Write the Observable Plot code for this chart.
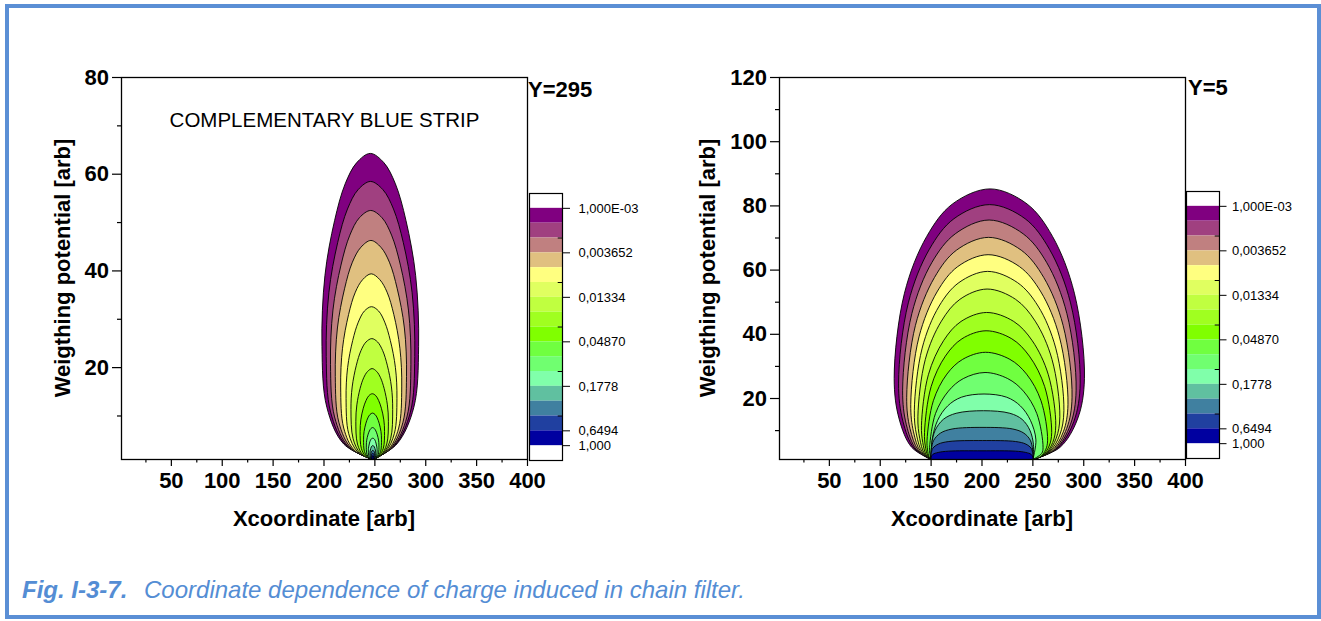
<!DOCTYPE html>
<html>
<head>
<meta charset="utf-8">
<script src="https://cdn.jsdelivr.net/npm/d3@7"></script>
<script src="https://cdn.jsdelivr.net/npm/@observablehq/plot@0.6"></script>
<style>
  html, body { margin: 0; padding: 0; background: #fff; overflow: hidden; }
  #page { position: relative; width: 1321px; height: 621px; font-family: "Liberation Sans", Arial, sans-serif; }
  #border { position: absolute; left: 5px; top: 4px; width: 1316px; height: 615px; box-sizing: border-box; border: 4px solid #5b8fd5; }
  .abs { position: absolute; }
  .slice { font-weight: bold; font-size: 22px; line-height: 22px; color: #000; white-space: nowrap; }
  .title { position: absolute; font-weight: bold; font-size: 22px; line-height: 22px; color: #000; white-space: nowrap; transform: translate(-50%, -50%); }
  .title.vert { transform: translate(-50%, -50%) rotate(-90deg); }
  #caption { left: 22px; top: 578px; font-size: 24px; line-height: 24px; font-style: italic; color: #548dd4; white-space: nowrap; }
  #caption b { margin-right: 10px; }
</style>
</head>
<body>
<div id="page">
  <div id="border"></div>
  <div id="leftPanel" class="abs" style="left:0px;top:0px"></div>
  <div id="leftBar" class="abs" style="left:529px;top:183px"></div>
  <div class="abs slice" style="left:528px;top:79px">Y=295</div>
  <div class="title vert" style="left:63px;top:268px">Weigthing potential [arb]</div>
  <div class="title" style="left:324px;top:519px">Xcoordinate [arb]</div>
  <div id="rightPanel" class="abs" style="left:660px;top:0px"></div>
  <div id="rightBar" class="abs" style="left:1186px;top:181px"></div>
  <div class="abs slice" style="left:1188px;top:77px">Y=5</div>
  <div class="title vert" style="left:708px;top:268px">Weigthing potential [arb]</div>
  <div class="title" style="left:982px;top:519px">Xcoordinate [arb]</div>
  <div id="caption" class="abs"><b>Fig. I-3-7.</b> Coordinate dependence of charge induced in chain filter.</div>
</div>
<script>
// Contour level boundaries (induced charge fraction), lowest first
const levels = [0.001, 0.0015399, 0.0023714, 0.0036517, 0.0056234, 0.0086596, 0.013335, 0.020535,
  0.031623, 0.048697, 0.074989, 0.11548, 0.17783, 0.27384, 0.42170, 0.64938, 1.0];
// Fill colour of the band just above each level
const bandColors = ["#800080", "#a04080", "#c08080", "#e0c080", "#ffff80", "#e0ff60", "#c0ff40", "#a0ff20",
  "#80ff00", "#70ff40", "#70ff70", "#80ffaa", "#60c0a0", "#4080a0", "#2040a0", "#0000a0"];
// Colour bar extent and ticks
const barLow = 0.00064938, barHigh = 1.5399;
const barTickValues = [0.001, 0.0036517, 0.013335, 0.048697, 0.17783, 0.64938, 1.0];
const barTickLabels = ["1,000E-03", "0,003652", "0,01334", "0,04870", "0,1778", "0,6494", "1,000"];
const barMinorTicks = [0.0023714, 0.0086596, 0.031623, 0.11548, 0.42170];

// Axis ticks
const xMajor = [50, 100, 150, 200, 250, 300, 350, 400];
const xMinor = [25, 75, 125, 175, 225, 275, 325, 375];
const leftYMajor = [20, 40, 60, 80];
const leftYMinor = [10, 30, 50, 70];
const rightYMajor = [20, 40, 60, 80, 100, 120];
const rightYMinor = [10, 30, 50, 70, 90, 110];

// Y=295 slice: iso-lines around the narrow strip end at x≈248, one outline per level
const leftContours = [
  [[248,1],[219.4,4.2],[202.8,11.8],[198,24.4],[200.9,39],[210.4,50.4],[220.8,58],[232.2,62.4],[245.5,64.3],[258.8,62.4],[270.2,58],[280.6,50.4],[290.1,39],[293,24.4],[288.3,11.8],[271.6,4.2],[248,1]],
  [[248,1],[221.8,3.9],[206.5,10.8],[202.2,22.3],[204.8,35.5],[213.5,45.9],[223.1,52.8],[233.5,56.8],[245.7,58.5],[257.9,56.8],[268.3,52.8],[277.9,45.9],[286.6,35.5],[289.2,22.3],[284.9,10.8],[269.6,3.9],[248,1]],
  [[248,1],[224.2,3.6],[210.4,9.8],[206.4,20.6],[208.8,31.9],[216.7,41.2],[225.4,47.4],[234.8,51],[245.9,52.5],[257,51],[266.4,47.4],[275.1,41.2],[283,31.9],[285.4,20.6],[281.5,9.8],[267.6,3.6],[248,1]],
  [[248,1],[226.9,3.3],[214.6,8.7],[211.1,18.2],[213.2,28.2],[220.2,36.3],[227.9,41.8],[236.3,44.9],[246.1,46.3],[255.9,44.9],[264.3,41.8],[272,36.3],[279,28.2],[281.1,18.2],[277.6,8.7],[265.4,3.3],[248,1]],
  [[248,1],[229.9,2.9],[219.4,7.5],[216.4,16],[218.2,24],[224.2,31],[230.8,35.6],[238,38.2],[246.4,39.4],[254.8,38.2],[262,35.6],[268.6,31],[274.6,24],[276.4,16],[273.4,7.5],[262.9,2.9],[248,1]],
  [[248,1],[233,2.6],[224.2,6.4],[221.7,13.6],[223.2,20],[228.2,25.6],[233.7,29.4],[239.7,31.7],[246.7,32.6],[253.7,31.7],[259.7,29.4],[265.2,25.6],[270.2,20],[271.7,13.6],[269.2,6.4],[260.5,2.6],[248,1]],
  [[248,1],[235.7,2.3],[228.6,5.3],[226.5,11.3],[227.7,16],[231.8,20.5],[236.3,23.5],[241.3,25.3],[247,26],[252.7,25.3],[257.7,23.5],[262.2,20.5],[266.3,16],[267.5,11.3],[265.5,5.3],[258.3,2.3],[248,1]],
  [[248,1],[238.5,1.9],[232.9,4.2],[231.3,8.9],[232.3,12.3],[235.5,15.7],[239,17.9],[242.8,19.2],[247.3,19.8],[251.8,19.2],[255.6,17.9],[259.1,15.7],[262.3,12.3],[263.3,8.9],[261.7,4.2],[256.1,1.9],[248,1]],
  [[248,1],[240.9,1.7],[236.7,3.3],[235.5,6.8],[236.2,9.2],[238.6,11.6],[241.3,13.2],[244.1,14.2],[247.5,14.6],[250.9,14.2],[253.7,13.2],[256.4,11.6],[258.8,9.2],[259.5,6.8],[258.3,3.3],[254.1,1.7],[248,1]],
  [[248,1],[242.9,1.5],[239.8,2.6],[238.9,5.2],[239.4,6.8],[241.2,8.5],[243.1,9.6],[245.2,10.3],[247.7,10.6],[250.2,10.3],[252.3,9.6],[254.2,8.5],[256,6.8],[256.5,5.2],[255.6,2.6],[252.5,1.5],[248,1]],
  [[248,1],[244.4,1.3],[242.2,2.1],[241.6,4],[242,5],[243.2,6.1],[244.6,6.9],[246.1,7.4],[247.8,7.6],[249.5,7.4],[251,6.9],[252.4,6.1],[253.6,5],[254,4],[253.4,2.1],[251.2,1.3],[248,1]],
  [[248,1],[245.5,1.2],[244,1.75],[243.6,3],[243.9,3.6],[244.7,4.4],[245.7,5],[246.7,5.3],[247.9,5.4],[249.1,5.3],[250.1,5],[251.1,4.4],[251.9,3.6],[252.2,3],[251.8,1.75],[250.3,1.2],[248,1]],
  [[248,1],[246.4,1.15],[245.4,1.5],[245.1,2.3],[245.3,2.75],[245.9,3.25],[246.5,3.6],[247.2,3.8],[248,3.9],[248.8,3.8],[249.5,3.6],[250.1,3.25],[250.7,2.75],[250.9,2.3],[250.6,1.5],[249.6,1.15],[248,1]],
  [[248,1],[246.9,1.1],[246.2,1.3],[246,1.85],[246.1,2.15],[246.6,2.6],[248,2.9],[249.4,2.6],[249.9,2.15],[250,1.85],[249.8,1.3],[249.1,1.1],[248,1]],
  [[248,1],[247.2,1.07],[246.7,1.2],[246.6,1.6],[246.7,1.8],[247,2.1],[248,2.3],[249,2.1],[249.3,1.8],[249.4,1.6],[249.3,1.2],[248.8,1.07],[248,1]],
  [[248,1],[247.5,1.04],[247.2,1.14],[247.1,1.36],[247.2,1.5],[247.4,1.7],[248,1.8],[248.6,1.7],[248.8,1.5],[248.9,1.36],[248.8,1.14],[248.5,1.04],[248,1]]
];

// Y=5 slice: iso-lines spanning the strip from x=150 to x=250
const rightContours = [
  [[150,1],[130.9,4.8],[118.6,13.6],[113.7,26.3],[123.8,52.8],[145.7,70.5],[171,80.6],[208,85.3],[244.3,80.6],[269.3,70.5],[290.8,52.8],[300.7,26.3],[293.9,13.6],[276.7,4.8],[250,1]],
  [[150,1],[133.1,4.6],[122.3,12.9],[118,24.8],[127.6,49.8],[148.3,66.5],[172.4,76],[207.5,80.4],[242.4,76],[266.3,66.5],[287,49.8],[296.5,24.8],[290.3,12.9],[274.5,4.6],[250,1]],
  [[150,1],[135.3,4.2],[125.7,11.8],[122,22.6],[131.1,46.5],[150.8,62.4],[173.7,71.3],[207,75.6],[240.5,71.3],[263.5,62.4],[283.4,46.5],[292.5,22.6],[286.8,11.8],[272.4,4.2],[250,1]],
  [[150,1],[137.4,3.9],[129.2,10.7],[126,20.4],[134.6,42.8],[153.3,57.7],[174.9,66.2],[206.5,70.2],[238.6,66.2],[260.7,57.7],[279.7,42.8],[288.5,20.4],[283.3,10.7],[270.3,3.9],[250,1]],
  [[150,1],[139.4,3.6],[132.7,9.6],[130,18.2],[138.1,39.2],[155.8,53.2],[176.2,61.1],[206,64.8],[236.8,61.1],[257.9,53.2],[276.1,39.2],[284.5,18.2],[279.9,9.6],[268.2,3.6],[250,1]],
  [[150,1],[141.3,3.3],[135.7,8.6],[133.5,16.2],[141.2,35.7],[157.9,48.8],[177.3,56.1],[205.5,59.6],[234.9,56.1],[255.1,48.8],[272.5,35.7],[280.5,16.2],[276.4,8.6],[266,3.3],[250,1]],
  [[150,1],[143.1,3],[138.8,7.6],[137,14.3],[144.3,32.2],[160.1,44.1],[178.3,50.9],[205,54.1],[233,50.9],[252.3,44.1],[268.8,32.2],[276.5,14.3],[272.9,7.6],[264,3],[250,1]],
  [[150,1],[145,2.6],[141.8,6.3],[140.5,11.5],[147.3,27.4],[162.2,38],[179.4,44],[204.5,46.8],[231.2,44],[249.4,38],[265.2,27.4],[272.5,11.5],[269.5,6.3],[261.8,2.6],[250,1]],
  [[150,1],[146.6,2.3],[144.3,5.2],[143.5,9.4],[150,23.7],[164,33.2],[180.3,38.6],[204,41.1],[229.3,38.6],[246.6,33.2],[261.6,23.7],[268.5,9.4],[266,5.2],[259.7,2.3],[250,1]],
  [[150,1],[147.9,1.9],[146.5,4],[146,7],[152.2,19.3],[165.5,27.6],[181,32.2],[203.5,34.4],[227.4,32.2],[243.8,27.6],[258,19.3],[264.5,7],[262.5,4],[257.6,1.9],[250,1]],
  [[150,1],[148.7,2.9],[148.5,4.8],[154.3,15.3],[167,22.3],[181.6,26.2],[203,28.1],[225.3,26.2],[240.7,22.3],[253.9,15.3],[260,4.8],[258.7,2.9],[250,1]],
  [[150,1],[151,7.1],[156.4,13.2],[166.3,17.7],[179.7,20.4],[202,21.4],[224.3,20.4],[237.7,17.7],[247.6,13.2],[253,7.1],[250,1]],
  [[150,1],[150.5,5.6],[154,10.1],[162,13.5],[174.6,15.4],[201.5,16.2],[227.4,15.4],[239.4,13.5],[247.1,10.1],[250.6,5.6],[250,1]],
  [[150,1],[150.2,4],[152.6,7],[159.1,9.2],[170.6,10.5],[201,11],[230.3,10.5],[241.2,9.2],[247.5,7],[249.8,4],[250,1]],
  [[150,1],[150.1,2.8],[151.7,4.5],[157.1,5.8],[167.4,6.6],[200.5,6.9],[233,6.6],[243.1,5.8],[248.3,4.5],[249.9,2.8],[250,1]],
  [[150,1],[150.1,1.8],[151.7,2.6],[157,3.2],[167.2,3.6],[200,3.7],[232.8,3.6],[243,3.2],[248.3,2.6],[249.9,1.8],[250,1]]
];

const FONT = '"Liberation Sans", Arial, sans-serif';

function panel({contours, yDomain, yMajor, yMinor, marginLeft, note}) {
  // filled iso-regions, outermost first so inner bands paint over outer ones
  const marks = contours.map((pts, k) => Plot.line(pts, {
    x: d => d[0], y: d => d[1], curve: "catmull-rom",
    fill: bandColors[k], stroke: "#000", strokeWidth: 0.9, clip: true
  }));
  marks.push(
    Plot.frame({stroke: "#000", strokeWidth: 1.3}),
    Plot.axisX({ticks: xMajor, tickSize: 7, tickPadding: 6, label: null, strokeWidth: 1.2}),
    Plot.axisX({ticks: xMinor, tickSize: 3.5, tickFormat: () => "", label: null, strokeWidth: 1.2}),
    Plot.axisY({ticks: yMajor, tickSize: 9, tickPadding: 3.5, label: null, strokeWidth: 1.2}),
    Plot.axisY({ticks: yMinor, tickSize: 4, tickFormat: () => "", label: null, strokeWidth: 1.2})
  );
  if (note) marks.push(Plot.text([note], {text: d => d, frameAnchor: "top", dy: 35, fontWeight: "normal", fontSize: 20.5}));
  return Plot.plot({
    width: marginLeft + 407, height: 540,
    marginLeft, marginRight: 1, marginTop: 77, marginBottom: 81,
    x: {domain: [1, 400]},
    y: {domain: yDomain},
    style: {fontFamily: FONT, fontSize: "22px", fontWeight: "bold", color: "#000", background: "transparent", overflow: "visible"},
    marks
  });
}

// barWidth px wide colour scale; tickLen and labelGap in px to the right of the bar
function colorBar(barHeight, tickLen, labelGap) {
  const barWidth = 33;
  const bands = bandColors.map((c, k) => ({lo: levels[k], hi: levels[k + 1], c}));
  return Plot.plot({
    width: barWidth + 90, height: barHeight + 20,
    marginLeft: 0, marginRight: 90, marginTop: 10, marginBottom: 10,
    x: {domain: [0, 1], axis: null},
    y: {type: "log", domain: [barLow, barHigh], reverse: true, axis: null},
    color: {type: "identity"},
    style: {fontFamily: FONT, fontSize: "13px", color: "#000", background: "transparent", overflow: "visible"},
    marks: [
      Plot.rect(bands, {x1: 0, x2: 1, y1: "lo", y2: "hi", fill: "c"}),
      Plot.ruleY(barMinorTicks, {x1: 0.87, x2: 1, stroke: "#000", strokeWidth: 1}),
      Plot.ruleY(barTickValues, {x1: 1, x2: 1 + tickLen / barWidth, stroke: "#000", strokeWidth: 1}),
      Plot.text(barTickValues, {y: d => d, x: 1, dx: labelGap, text: (d, i) => barTickLabels[i], textAnchor: "start"}),
      Plot.frame({stroke: "#000", strokeWidth: 1.2})
    ]
  });
}

document.getElementById("leftPanel").append(panel({
  contours: leftContours, yDomain: [1, 80], yMajor: leftYMajor, yMinor: leftYMinor,
  marginLeft: 121, note: "COMPLEMENTARY BLUE STRIP"
}));
document.getElementById("rightPanel").append(panel({
  contours: rightContours, yDomain: [1, 120], yMajor: rightYMajor, yMinor: rightYMinor,
  marginLeft: 119
}));
document.getElementById("leftBar").append(colorBar(267, 8, 16));
document.getElementById("rightBar").append(colorBar(267, 7.5, 12.5));
</script>
</body>
</html>
